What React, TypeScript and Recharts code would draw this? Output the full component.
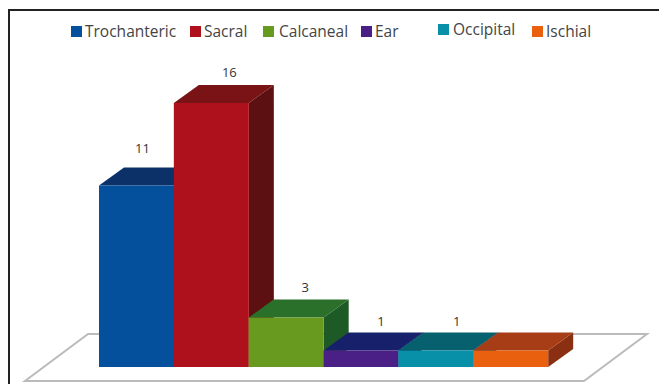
import { Bar, BarChart, LabelList, Legend, XAxis, YAxis } from "recharts";

const categories = ["Trochanteric", "Sacral", "Calcaneal", "Ear", "Occipital", "Ischial"];
const counts = [11, 16, 3, 1, 1, 1];
// Ischial has no printed count
const countLabels = ["11", "16", "3", "1", "1", null];

const frontColors = ["#04509c", "#ae111b", "#689a20", "#4a1f86", "#0890a8", "#e9600e"];
const topColors = ["#0c3068", "#7a1316", "#2a6f2a", "#17206a", "#07606e", "#a63d16"];
const sideColors = ["#0a2a58", "#5c1012", "#1e5a26", "#141c58", "#064f5c", "#8a2f12"];

// legend swatch left edges, and nudges for the hand-placed labels
const legendX = [71, 190, 263, 361, 438, 532];
const legendTextX = [85, 204, 279, 375, 453, 546];
const legendY = [31, 31, 31, 31, 29, 31];
const labelDx = [6, 18, 19, 20, 21, 0];
const labelDy = [38, 31, 31, 30, 30, 0];

const DEPTH_X = 25;
const DEPTH_Y = 18;
const LEGEND_HEIGHT = 50;

const data = categories.map((name, i) => ({ name, count: counts[i], label: countLabels[i] }));

function Box3D(props: any) {
  const { x, y, width, height, index } = props;
  const r = x + width;
  const b = y + height;
  const top = `${x},${y} ${x + DEPTH_X},${y - DEPTH_Y} ${r + DEPTH_X},${y - DEPTH_Y} ${r},${y}`;
  const side = `${r},${y} ${r + DEPTH_X},${y - DEPTH_Y} ${r + DEPTH_X},${b - DEPTH_Y} ${r},${b}`;
  return (
    <g>
      <polygon points={side} fill={sideColors[index]} />
      <polygon points={top} fill={topColors[index]} />
      <rect x={x} y={y} width={width} height={height} fill={frontColors[index]} />
    </g>
  );
}

function CountLabel(props: any) {
  const { x, y, width, value, index } = props;
  if (value == null) return null;
  return (
    <text
      x={x + width / 2 + labelDx[index]}
      y={y - labelDy[index]}
      textAnchor="middle"
      dominantBaseline="central"
      fontFamily="'Open Sans', sans-serif"
      fontSize={13}
      fill="#333"
    >
      {value}
    </text>
  );
}

function LegendRow() {
  return (
    <div style={{ position: "relative", width: 659, height: LEGEND_HEIGHT }}>
      {categories.map((name, i) => (
        <div key={name}>
          <div
            style={{
              position: "absolute",
              left: legendX[i],
              top: legendY[i] - 5,
              width: 11,
              height: 11,
              background: frontColors[i],
            }}
          />
          <div
            style={{
              position: "absolute",
              left: legendTextX[i],
              top: legendY[i] - 10,
              lineHeight: "20px",
              fontFamily: "'Open Sans', sans-serif",
              fontSize: 15.5,
              color: "#444",
              whiteSpace: "nowrap",
            }}
          >
            {name}
          </div>
        </div>
      ))}
    </div>
  );
}

export default function App() {
  return (
    <div style={{ position: "absolute", left: 0, top: 0, width: 659, height: 384, background: "#fff", overflow: "hidden" }}>
      {/* page frame, open on the right and bottom */}
      <div style={{ position: "absolute", left: 8, top: 9, width: 651, height: 375, borderLeft: "2px solid #222", borderTop: "2px solid #222" }} />
      <BarChart
        width={659}
        height={384}
        data={data}
        margin={{ top: 70 - LEGEND_HEIGHT, right: 111, bottom: 17, left: 99 }}
        barCategoryGap={0}
      >
        {/* floor plate under the boxes */}
        <polygon points="88,334 647,334 584,381 25,381" fill="#fff" stroke="#bbb" strokeWidth={2} />
        <XAxis dataKey="name" hide />
        <YAxis hide domain={[0, 18]} />
        <Legend
          verticalAlign="top"
          content={<LegendRow />}
          wrapperStyle={{ position: "absolute", left: 0, top: 0, width: 659, height: LEGEND_HEIGHT }}
        />
        <Bar dataKey="count" shape={<Box3D />} isAnimationActive={false}>
          <LabelList dataKey="label" content={<CountLabel />} />
        </Bar>
      </BarChart>
    </div>
  );
}
